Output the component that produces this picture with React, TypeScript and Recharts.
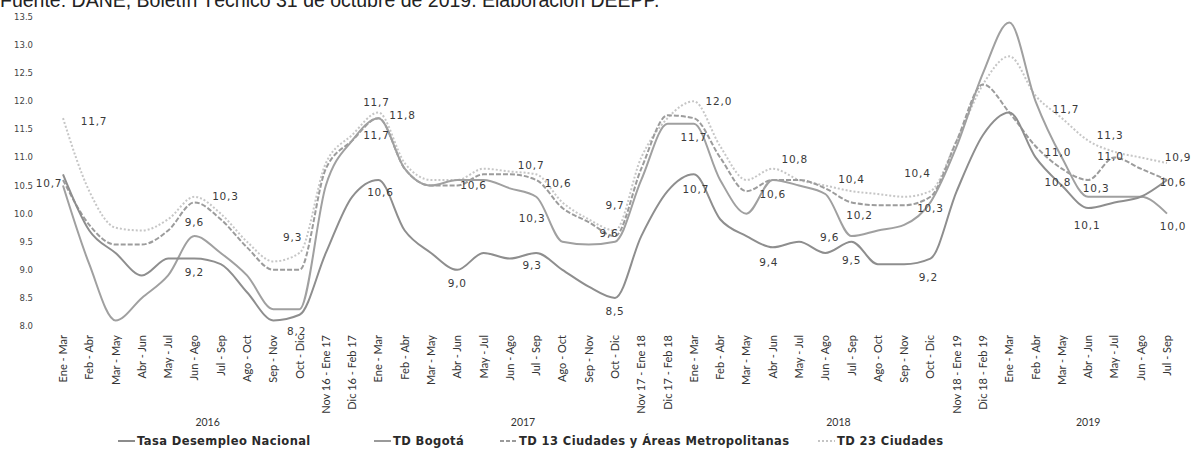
import React from "react";
import { LineChart, Line, XAxis, YAxis, LabelList } from "recharts";

const periods = [
  "Ene - Mar", "Feb - Abr", "Mar - May", "Abr - Jun", "May - Jul", "Jun - Ago", "Jul - Sep", "Ago - Oct", "Sep - Nov", "Oct - Dic", "Nov 16 - Ene 17", "Dic 16 - Feb 17",
  "Ene - Mar", "Feb - Abr", "Mar - May", "Abr - Jun", "May - Jul", "Jun - Ago", "Jul - Sep", "Ago - Oct", "Sep - Nov", "Oct - Dic", "Nov 17 - Ene 18", "Dic 17 - Feb 18",
  "Ene - Mar", "Feb - Abr", "Mar - May", "Abr - Jun", "May - Jul", "Jun - Ago", "Jul - Sep", "Ago - Oct", "Sep - Nov", "Oct - Dic", "Nov 18 - Ene 19", "Dic 18 - Feb 19",
  "Ene - Mar", "Feb - Abr", "Mar - May", "Abr - Jun", "May - Jul", "Jun - Ago", "Jul - Sep",
];

const years = ["2016", "2017", "2018", "2019"];

const nacional = [
  10.7, 9.7, 9.3, 8.9, 9.2, 9.2, 9.1, 8.6, 8.1, 8.2, 9.3, 10.3,
  10.6, 9.7, 9.3, 9.0, 9.3, 9.2, 9.3, 9.0, 8.7, 8.5, 9.6, 10.4,
  10.7, 9.9, 9.6, 9.4, 9.5, 9.3, 9.5, 9.1, 9.1, 9.2, 10.4, 11.4,
  11.8, 11.0, 10.5, 10.1, 10.2, 10.3, 10.6,
];

const bogota = [
  10.5, 9.1, 8.1, 8.5, 8.9, 9.6, 9.3, 8.9, 8.3, 8.3, 10.5, 11.3,
  11.7, 10.8, 10.5, 10.6, 10.6, 10.45, 10.3, 9.5, 9.45, 9.5, 10.6, 11.6,
  11.6, 10.6, 10.0, 10.6, 10.5, 10.35, 9.6, 9.7, 9.8, 10.2, 11.2, 12.5,
  13.4, 12.0, 11.0, 10.3, 10.3, 10.3, 10.0,
];

const ciudades13 = [
  10.6, 9.8, 9.45, 9.45, 9.7, 10.2, 9.9, 9.4, 9.0, 9.0, 10.8, 11.3,
  11.7, 10.8, 10.5, 10.5, 10.7, 10.7, 10.6, 10.1, 9.85, 9.6, 10.8, 11.75,
  11.7, 11.0, 10.4, 10.6, 10.6, 10.45, 10.2, 10.15, 10.15, 10.3, 11.3, 12.3,
  11.8, 11.2, 10.8, 10.6, 11.0, 10.8, 10.6,
];

const ciudades23 = [
  11.7, 10.4, 9.75, 9.7, 9.9, 10.3, 10.0, 9.5, 9.15, 9.3, 10.9, 11.4,
  11.8, 10.9, 10.6, 10.6, 10.8, 10.75, 10.7, 10.2, 9.9, 9.7, 11.0, 11.7,
  12.0, 11.2, 10.6, 10.8, 10.6, 10.5, 10.4, 10.35, 10.3, 10.4, 11.3, 12.3,
  12.8, 12.1, 11.7, 11.3, 11.1, 11.0, 10.9,
];

const yTicks = [8, 8.5, 9, 9.5, 10, 10.5, 11, 11.5, 12, 12.5, 13, 13.5];

// which points carry a value label, and where it sits
const labelsNacional: Record<number, [number, number]> = {
  0: [-14, 10], 5: [0, 14], 9: [-3, 17], 12: [2, 13], 15: [0, 14], 18: [-4, 13], 21: [0, 14],
  24: [2, 16], 27: [-4, 16], 30: [0, 19], 33: [-2, 19], 39: [-1, 18],
};
const labelsBogota: Record<number, [number, number]> = {
  5: [0, -13], 12: [-2, 18], 16: [-10, 6], 18: [-4, 22], 30: [-22, 2], 38: [-4, -4], 39: [8, -8], 42: [6, 13],
};
const labels13: Record<number, [number, number]> = {
  12: [-2, -15], 18: [22, 4], 21: [-6, -2], 24: [0, 20], 27: [0, 15], 30: [8, 14], 33: [0, 12], 38: [-4, 14],
  40: [-4, 0], 42: [6, 3],
};
const labels23: Record<number, [number, number]> = {
  0: [31, 4], 5: [31, 0], 9: [-7, -15], 12: [24, 3], 18: [-5, -8], 21: [0, -24], 24: [25, 1],
  27: [22, -9], 30: [0, -11], 33: [-13, -17], 38: [4, -8], 39: [22, -5], 42: [11, -5],
};

const data = periods.map((p, i) => ({
  periodo: p,
  nacional: nacional[i],
  bogota: bogota[i],
  c13: ciudades13[i],
  c23: ciudades23[i],
}));

const fmt = (v: number) => v.toFixed(1).replace(".", ",");

function makeLabel(spec: Record<number, [number, number]>) {
  return (props: any) => {
    const { x, y, value, index } = props;
    const s = spec[index];
    if (!s) return null;
    return (
      <text
        x={x + s[0]}
        y={y + s[1]}
        textAnchor="middle"
        dominantBaseline="middle"
        fontFamily="DejaVu Sans"
        fontSize={10.5}
        letterSpacing={0.8}
        fill="#3a3a3a"
      >
        {fmt(value)}
      </text>
    );
  };
}

const PeriodTick = (props: any) => {
  const { x, y, payload } = props;
  return (
    <text
      transform={`translate(${x + 4},${y + 9}) rotate(-90)`}
      textAnchor="end"
      fontFamily="Lato"
      fontSize={11}
      fill="#333"
    >
      {payload.value}
    </text>
  );
};

const legendItems = [
  { name: "Tasa Desempleo Nacional", color: "#8c8c8c", dash: "", left: 118 },
  { name: "TD Bogotá", color: "#9a9a9a", dash: "", left: 374 },
  { name: "TD 13 Ciudades y Áreas Metropolitanas", color: "#9a9a9a", dash: "4 2", left: 500 },
  { name: "TD 23 Ciudades", color: "#c4c4c4", dash: "2 2", left: 818 },
];

export default function App() {
  const x0 = 63;
  const x1 = 1167;
  const step = (x1 - x0) / (periods.length - 1);
  const yearCenters = [5.5, 17.5, 29.5, 39];
  return (
    <div style={{ position: "absolute", left: 0, top: 0, width: 1194, height: 456, background: "#fff", overflow: "hidden" }}>
      <div style={{ position: "absolute", left: 0, top: -11, fontFamily: "Liberation Sans", fontSize: 19.5, color: "#222", whiteSpace: "nowrap" }}>
        Fuente: DANE, Boletín Técnico 31 de octubre de 2019. Elaboración DEEPP.
      </div>
      <LineChart width={1194} height={456} data={data} margin={{ top: 17, right: 27, bottom: 40, left: 0 }}>
        <XAxis
          dataKey="periodo"
          interval={0}
          tick={<PeriodTick />}
          axisLine={false}
          tickLine={false}
          tickSize={0}
          tickMargin={0}
          height={90}
        />
        <YAxis
          domain={[8, 13.5]}
          ticks={yTicks}
          tickFormatter={(v: number) => v.toFixed(1)}
          axisLine={false}
          tickLine={false}
          tickSize={0}
          tickMargin={30}
          width={63}
          tick={{ fontFamily: "DejaVu Sans", fontSize: 8.5, fill: "#444" }}
        />
        <Line type="monotone" dataKey="c23" stroke="#c6c6c6" strokeWidth={2} strokeDasharray="2 2" dot={false} isAnimationActive={false}>
          <LabelList dataKey="c23" content={makeLabel(labels23)} />
        </Line>
        <Line type="monotone" dataKey="c13" stroke="#9c9c9c" strokeWidth={2} strokeDasharray="5 2" dot={false} isAnimationActive={false}>
          <LabelList dataKey="c13" content={makeLabel(labels13)} />
        </Line>
        <Line type="monotone" dataKey="bogota" stroke="#a0a0a0" strokeWidth={2} dot={false} isAnimationActive={false}>
          <LabelList dataKey="bogota" content={makeLabel(labelsBogota)} />
        </Line>
        <Line type="monotone" dataKey="nacional" stroke="#8e8e8e" strokeWidth={2} dot={false} isAnimationActive={false}>
          <LabelList dataKey="nacional" content={makeLabel(labelsNacional)} />
        </Line>
      </LineChart>
      {years.map((yr, i) => (
        <div
          key={yr}
          style={{ position: "absolute", top: 416, left: x0 + yearCenters[i] * step - 30, width: 60, textAlign: "center", fontFamily: "Lato", fontSize: 10.5, color: "#333" }}
        >
          {yr}
        </div>
      ))}
      <div style={{ position: "absolute", top: 434, left: 0, width: 1194, height: 16, fontFamily: "DejaVu Sans", fontWeight: "bold", fontSize: 11.5, color: "#2a2a2a", letterSpacing: 0.4 }}>
        {legendItems.map((it) => (
          <span key={it.name} style={{ position: "absolute", left: it.left, top: 0, display: "inline-flex", alignItems: "center", whiteSpace: "nowrap" }}>
            <svg width={17} height={8} style={{ marginRight: 2 }}>
              <line x1={0} y1={4} x2={17} y2={4} stroke={it.color} strokeWidth={2} strokeDasharray={it.dash} />
            </svg>
            {it.name}
          </span>
        ))}
      </div>
    </div>
  );
}
